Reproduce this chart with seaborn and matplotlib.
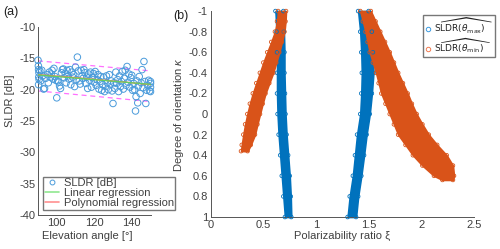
import numpy as np
import pandas as pd
import matplotlib
matplotlib.use("Agg")
import matplotlib.pyplot as plt
import seaborn as sns
from matplotlib.lines import Line2D

# ---------------- Panel (a) data ----------------
elev = [90.0, 90.2, 90.3, 90.5, 90.4, 90.6, 90.3, 91.0, 91.5, 92.0, 92.5, 93.0, 93.5, 94.0,
        95.0, 95.5, 96.0, 96.5, 97.0, 97.5, 98.0, 98.5, 99.0, 99.5, 100.0, 100.5, 101.0,
        101.5, 102.0, 102.5, 103.0, 103.5, 104.0, 104.5, 105.0, 105.5, 106.0, 106.5, 107.0,
        107.5, 108.0, 108.5, 109.0, 109.5, 110.0, 110.5, 111.0, 111.5, 112.0, 112.5, 113.0,
        113.5, 114.0, 114.5, 115.0, 115.5, 116.0, 116.5, 117.0, 117.5, 118.0, 118.5, 119.0,
        119.5, 120.0, 120.5, 121.0, 121.5, 122.0, 122.5, 123.0, 123.5, 124.0, 124.5, 125.0,
        125.5, 126.0, 126.5, 127.0, 127.5, 128.0, 128.5, 129.0, 129.5, 130.0, 130.5, 131.0,
        131.5, 132.0, 132.5, 133.0, 133.5, 134.0, 134.5, 135.0, 135.5, 136.0, 136.5, 137.0,
        137.5, 138.0, 138.5, 139.0, 139.5, 140.0, 140.5, 141.0, 141.5, 142.0, 142.3, 142.8,
        143.2, 143.5, 144.0, 144.5, 145.0, 145.5, 146.0, 146.5, 147.0, 147.5, 148.0, 148.5,
        149.0, 149.5, 150.0, 150.0, 150.0, 150.0]
sldr = [-15.3, -16.2, -16.8, -17.3, -18.0, -18.4, -19.2, -17.0, -18.6, -16.9, -17.8, -19.9,
        -19.8, -18.2, -17.6, -18.9, -17.2, -18.0, -17.5, -16.9, -18.3, -16.6, -17.9, -18.5,
        -21.3, -18.6, -18.8, -19.4, -19.8, -17.3, -16.8, -16.7, -18.1, -17.4, -18.9, -16.9,
        -17.8, -18.3, -16.8, -19.2, -17.2, -18.0, -17.6, -19.5, -16.4, -18.4, -14.8, -17.0,
        -18.6, -19.1, -16.9, -17.8, -18.2, -16.8, -17.3, -19.0, -18.0, -19.8, -17.5, -18.5,
        -17.2, -19.6, -18.1, -17.4, -18.8, -17.1, -19.3, -18.4, -17.6, -19.9, -18.7, -17.9,
        -20.1, -19.2, -18.0, -20.3, -19.5, -17.8, -18.9, -20.0, -17.6, -19.1, -18.6, -20.2,
        -22.2, -18.9, -19.8, -17.2, -19.0, -18.4, -20.3, -17.8, -19.5, -18.7, -17.1, -19.9,
        -18.2, -16.9, -19.3, -16.3, -18.8, -17.5, -19.6, -18.1, -17.7, -20.1, -19.0, -20.0,
        -23.4, -21.1, -18.6, -22.1, -19.4, -17.9, -20.6, -18.9, -16.8, -19.7, -15.5, -18.7,
        -22.2, -20.1, -19.3, -18.5, -20.2, -19.0, -18.7, -19.6, -20.3]
reg_x = [90, 150]
lin_reg = [-17.65, -19.15]
poly_x = [90, 105, 120, 135, 150]
poly_reg = [-17.6, -17.95, -18.35, -18.75, -19.2]
upper_bound = [-15.4, -17.0]
lower_bound = [-20.2, -21.9]
yticks_a = [-40, -35, -30, -25, -20, -15, -10]
xticks_a = [100, 120, 140]

# ---------------- Panel (b) data ----------------
kappa_blue = [-1.0, -0.8, -0.6, -0.4, -0.2, 0.0, 0.2, 0.4, 0.6, 0.8, 1.0]
xi_blue1_lo = [0.615, 0.625, 0.63, 0.63, 0.63, 0.635, 0.645, 0.66, 0.675, 0.69, 0.705]
xi_blue1_hi = [0.69, 0.695, 0.70, 0.70, 0.705, 0.71, 0.72, 0.735, 0.75, 0.76, 0.765]
xi_blue2_lo = [1.40, 1.42, 1.43, 1.435, 1.43, 1.42, 1.39, 1.37, 1.35, 1.32, 1.30]
xi_blue2_hi = [1.50, 1.53, 1.54, 1.545, 1.53, 1.51, 1.48, 1.456, 1.43, 1.40, 1.38]

kappa_or1 = [-1.0, -0.9, -0.8, -0.7, -0.6, -0.5, -0.4, -0.3, -0.2, -0.1, 0.0, 0.1, 0.2, 0.3, 0.36]
xi_or1_lo = [0.64, 0.63, 0.61, 0.575, 0.537, 0.50, 0.467, 0.433, 0.40, 0.372, 0.348, 0.327,
             0.31, 0.295, 0.288]
xi_or1_hi = [0.715, 0.71, 0.70, 0.676, 0.651, 0.622, 0.593, 0.556, 0.52, 0.493, 0.468, 0.443,
             0.42, 0.38, 0.35]

kappa_or2 = [-1.0, -0.9, -0.8, -0.7, -0.6, -0.5, -0.4, -0.3, -0.2, -0.1, 0.0, 0.1, 0.2, 0.3,
             0.4, 0.5, 0.6, 0.64]
xi_or2_lo = [1.42, 1.445, 1.47, 1.49, 1.51, 1.54, 1.57, 1.595, 1.62, 1.66, 1.70, 1.74, 1.78,
             1.85, 1.92, 2.01, 2.12, 2.20]
xi_or2_hi = [1.52, 1.565, 1.61, 1.655, 1.70, 1.74, 1.78, 1.825, 1.87, 1.91, 1.955, 2.01, 2.07,
             2.15, 2.24, 2.30, 2.31, 2.30]

yticks_b = [-1, -0.8, -0.6, -0.4, -0.2, 0, 0.2, 0.4, 0.6, 0.8, 1]
yticklabels_b = ["-1", "-0.8", "-0.6", "-0.4", "-0.2", "0", "0.2", "0.4", "0.6", "0.8", "1"]
xticks_b = [0, 0.5, 1, 1.5, 2, 2.5]
xticklabels_b = ["0", "0.5", "1", "1.5", "2", "2.5"]

# ---------------- Style ----------------
sns.set_theme(style="white")
plt.rcParams["font.family"] = ["Liberation Sans", "DejaVu Sans"]
plt.rcParams["axes.unicode_minus"] = False
plt.rcParams["mathtext.fontset"] = "custom"
plt.rcParams["mathtext.rm"] = "Liberation Sans"
plt.rcParams["mathtext.it"] = "Liberation Sans:italic"

GRAY = "#404040"
SPINE = "#555555"
BLUE = "#0072BD"
ORANGE = "#D95319"
LBLUE = "#4A9BDB"

fig = plt.figure(figsize=(5.0, 2.49), dpi=100)
ax_a = fig.add_axes([0.076, 0.1365, 0.225, 0.755])
ax_b = fig.add_axes([0.4214, 0.1285, 0.5266, 0.827])

for ax in (ax_a, ax_b):
    for s in ("top", "right"):
        ax.spines[s].set_visible(False)
    for s in ("left", "bottom"):
        ax.spines[s].set_color(SPINE)
        ax.spines[s].set_linewidth(0.7)
    ax.tick_params(direction="in", length=2.5, width=0.6, colors=SPINE,
                   labelcolor=GRAY, labelsize=8, pad=2)
    ax.set_facecolor("none")

# ---- Panel (a)
df_a = pd.DataFrame({"elev": elev, "sldr": sldr})
sns.lineplot(x=reg_x, y=upper_bound, ax=ax_a, color="#FF70FF", lw=0.9,
             linestyle=(0, (4, 3)))
sns.lineplot(x=reg_x, y=lower_bound, ax=ax_a, color="#FF70FF", lw=0.9,
             linestyle=(0, (4, 3)))
sns.scatterplot(data=df_a, x="elev", y="sldr", ax=ax_a, marker="o", s=22,
                facecolors="none", edgecolor=LBLUE, linewidth=0.7, clip_on=False,
                zorder=3)
sns.lineplot(x=poly_x, y=poly_reg, ax=ax_a, color="#F08060", lw=1.0, zorder=4)
sns.lineplot(x=reg_x, y=lin_reg, ax=ax_a, color="#60D060", lw=0.9, zorder=4)
ax_a.set_xlim(90, 150)
ax_a.set_ylim(-40, -10)
ax_a.set_xticks(xticks_a)
ax_a.set_yticks(yticks_a)
ax_a.set_xlabel("Elevation angle [°]", fontsize=8, color=GRAY, labelpad=1)
ax_a.set_ylabel("SLDR [dB]", fontsize=8, color=GRAY)
ax_a.yaxis.set_label_coords(-0.2, 0.61)
ax_a.xaxis.set_label_coords(0.44, -0.085)

h_a = [Line2D([], [], marker="o", ls="none", mfc="none", mec=LBLUE, ms=3.5, mew=0.7),
       Line2D([], [], color="#90E890", lw=1.2),
       Line2D([], [], color="#FF9090", lw=1.2)]
fig.legend(h_a, ["SLDR [dB]", "Linear regression", "Polynomial regression"],
           loc="lower left", bbox_to_anchor=(0.086, 0.157), fontsize=8,
           frameon=True, fancybox=False, edgecolor=SPINE, handlelength=1.3,
           handletextpad=0.4, borderpad=0.15, labelspacing=0.0, borderaxespad=0,
           labelcolor=GRAY)

fig.text(0.006, 0.94, "(a)", fontsize=9, color="#222222")

# ---- Panel (b)
def band(ax, kap, lo, hi, color):
    ax.fill_betweenx(kap, lo, hi, facecolor=color, edgecolor=color, lw=1.2,
                     zorder=2, clip_on=False)
    pts = pd.DataFrame({"xi": list(lo) + list(hi), "kappa": list(kap) + list(kap)})
    sns.scatterplot(data=pts, x="xi", y="kappa", ax=ax, marker="o", s=7,
                    facecolors="none", edgecolor=color, linewidth=0.6, zorder=3,
                    clip_on=False)

band(ax_b, kappa_blue, xi_blue1_lo, xi_blue1_hi, BLUE)
band(ax_b, kappa_blue, xi_blue2_lo, xi_blue2_hi, BLUE)
band(ax_b, kappa_or1, xi_or1_lo, xi_or1_hi, ORANGE)
band(ax_b, kappa_or2, xi_or2_lo, xi_or2_hi, ORANGE)

ax_b.set_xlim(0, 2.5)
ax_b.set_ylim(1, -1)
ax_b.set_xticks(xticks_b)
ax_b.set_xticklabels(xticklabels_b)
ax_b.set_yticks(yticks_b)
ax_b.set_yticklabels(yticklabels_b)
ax_b.set_xlabel("Polarizability ratio ξ", fontsize=8, color=GRAY, labelpad=1)
ax_b.set_ylabel(r"Degree of orientation $\mathit{\kappa}$", fontsize=8, color=GRAY,
                labelpad=2)

h_b = [Line2D([], [], marker="o", ls="none", mfc="none", mec="#3A9AE0", ms=3.2, mew=0.7),
       Line2D([], [], marker="o", ls="none", mfc="none", mec="#F07A50", ms=3.2, mew=0.7)]
leg_b = fig.legend(h_b, [r"$\widehat{\mathrm{SLDR}(\theta_{\mathrm{max}})}$",
                         r"$\widehat{\mathrm{SLDR}(\theta_{\mathrm{min}})}$"],
                   loc="upper right", bbox_to_anchor=(0.99, 0.94), fontsize=6.5,
                   frameon=True, fancybox=False, edgecolor=SPINE, handlelength=0.6,
                   handletextpad=0.4, borderpad=0.2, labelspacing=0.1,
                   borderaxespad=0, labelcolor="#222222")
for t in leg_b.get_texts():
    t.set_math_fontfamily("dejavusans")

fig.text(0.346, 0.925, "(b)", fontsize=9, color="#222222")

fig.savefig("out.png", dpi=100)
